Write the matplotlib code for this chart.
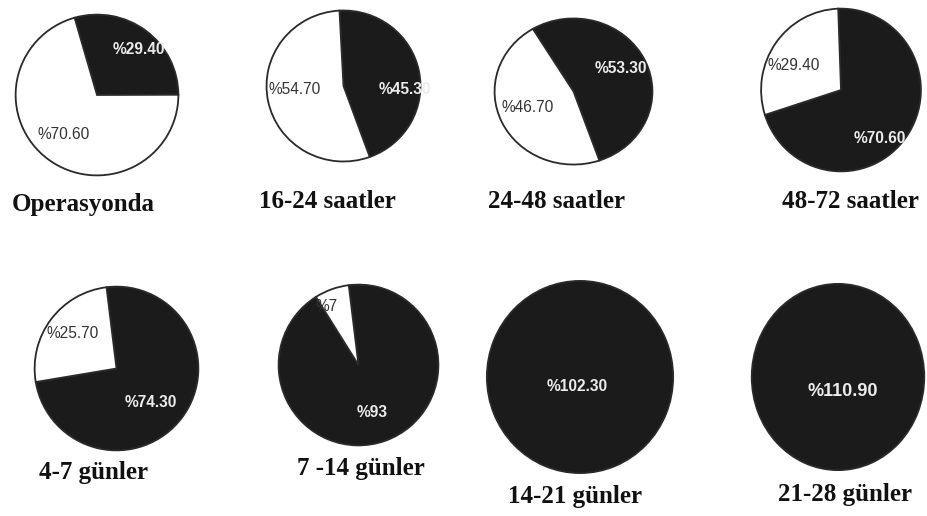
import matplotlib
matplotlib.use("Agg")
import matplotlib.pyplot as plt

# periods and the two shares for each period
periods = ["Operasyonda", "16-24 saatler", "24-48 saatler", "48-72 saatler",
           "4-7 günler", "7 -14 günler", "14-21 günler", "21-28 günler"]
dark_share = [29.4, 45.3, 53.3, 70.6, 74.3, 93, 102.3, 110.9]
light_share = [70.6, 54.7, 46.7, 29.4, 25.7, 7, 0, 0]
dark_text = ["%29.40", "%45.30", "%53.30", "%70.60", "%74.30", "%93", "%102.30", "%110.90"]
light_text = ["%70.60", "%54.70", "%46.70", "%29.40", "%25.70", "%7", "", ""]

W, H = 928, 516
# pie centre / half sizes in pixels, start angle of the dark wedge
pie_box = [(97, 95, 83, 82), (343.5, 86, 78.5, 77), (573.5, 91.5, 80.5, 74.5), (841, 90, 81.5, 83),
           (116.5, 368.5, 83.5, 83.5), (358.5, 365, 81.5, 82), (580, 377, 95, 98), (838, 377, 88, 95)]
start = [106, 93, 121, 92, 97, 97, 90, 90]
# label spots in pie units (dark, light)
dark_pos = [(0.52, 0.57), (0.80, -0.05), (0.60, 0.31), (0.48, -0.60),
            (0.42, -0.41), (0.17, -0.59), (-0.03, -0.10), (0.05, -0.16)]
light_pos = [(-0.41, -0.49), (-0.64, -0.05), (-0.58, -0.22), (-0.59, 0.30),
             (-0.53, 0.43), (-0.40, 0.73), None, None]
title_xy = [(83, 205), (327, 202), (557, 202), (850, 201),
            (94, 472), (361, 469), (575, 497), (845, 495)]

dark = "#1b1b1b"

fig = plt.figure(figsize=(W / 100, H / 100), dpi=100)
fig.patch.set_facecolor("white")

for i in range(len(periods)):
    cx, cy, rx, ry = pie_box[i]
    ax = fig.add_axes([(cx - rx) / W, 1 - (cy + ry) / H, 2 * rx / W, 2 * ry / H])
    vals = [dark_share[i]]
    cols = [dark]
    if light_share[i] > 0:
        vals.append(light_share[i])
        cols.append("white")
    wedges, _ = ax.pie(vals, colors=cols, startangle=start[i], counterclock=False,
                       wedgeprops=dict(edgecolor="#2a2a2a", linewidth=1.3))
    ax.set_aspect("auto")
    ax.set_xlim(-1.02, 1.02)
    ax.set_ylim(-1.02, 1.02)
    ax.axis("off")

    fs = 13 if i == 7 else 11.2
    t = ax.text(dark_pos[i][0], dark_pos[i][1], dark_text[i], ha="center", va="center",
                color="#ececec", fontsize=fs, fontweight="bold", family="Liberation Sans")
    t.set_clip_path(wedges[0])
    if light_pos[i] is not None:
        t = ax.text(light_pos[i][0], light_pos[i][1], light_text[i], ha="center", va="center",
                    color="#333333", fontsize=fs, family="Liberation Sans")
        t.set_clip_path(wedges[1])

    fig.text(title_xy[i][0] / W, 1 - title_xy[i][1] / H, periods[i], ha="center", va="center",
             fontsize=18, fontweight="bold", family="Liberation Serif", color="#111111")

fig.savefig("out.png", dpi=100, facecolor="white")
